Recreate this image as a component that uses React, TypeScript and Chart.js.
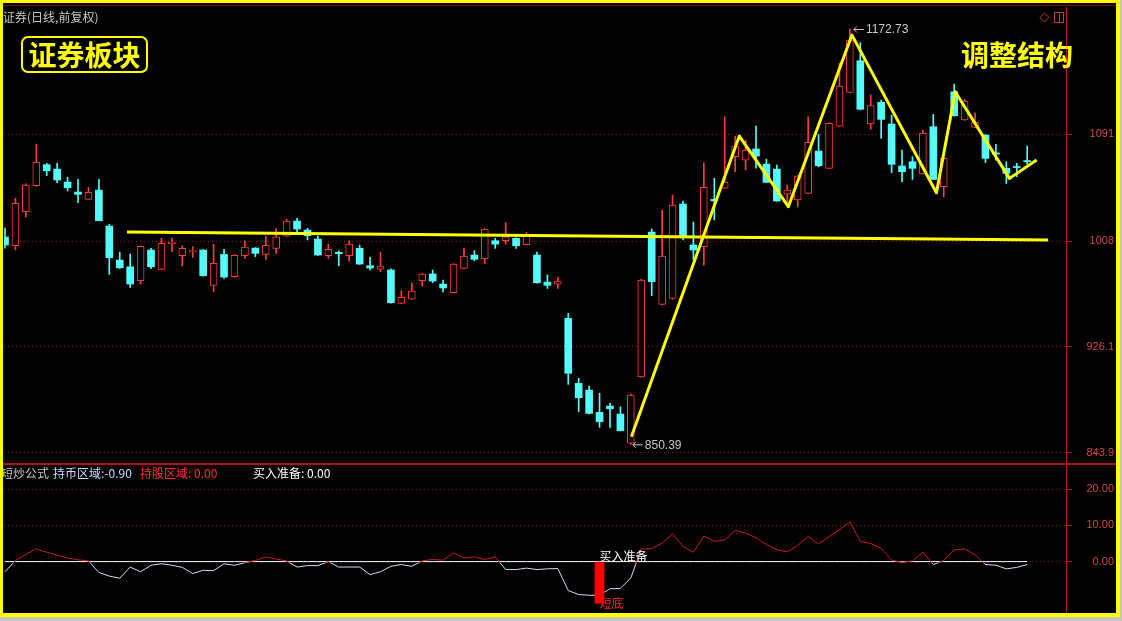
import React, { useEffect, useRef } from 'react';
import { Chart, registerables } from 'chart.js';

Chart.register(...registerables);

// ---------- text ----------
const chartTitle = '证券(日线,前复权)';
const sectorLabel = '证券板块';
const patternLabel = '调整结构';
const indicatorName = '短炒公式';
const headerHold = '持币区域:-0.90';
const headerStock = '持股区域: 0.00';
const headerBuy = '买入准备: 0.00';
const buySignalText = '买入准备';
const bottomSignalText = '短底';

// ---------- daily OHLC ----------
const opens = [
  1011.3, 1004.5, 1030.9, 1051.1, 1067.4, 1064.0, 1053.9, 1046.2, 1040.5, 1047.7,
  1019.8, 993.4, 988.2, 977.4, 1001.2, 986.2, 1006.0, 996.8, 999.8, 1001.2,
  973.8, 997.8, 980.5, 996.8, 1002.7, 997.8, 1002.5, 1012.0, 1023.7, 1016.7,
  1009.7, 996.8, 999.4, 996.8, 1002.5, 989.0, 986.4, 985.7, 959.8, 963.1,
  977.4, 982.6, 974.8, 968.0, 987.0, 997.3, 994.4, 1008.4, 1008.4, 1010.3,
  1005.3, 997.3, 976.3, 974.6, 948.2, 897.7, 892.5, 875.2, 880.1, 873.9,
  851.2, 902.8, 1015.1, 959.0, 963.7, 1036.9, 1005.1, 1003.7, 1040.5, 1049.1,
  1073.6, 1071.0, 1079.6, 1067.9, 1064.0, 1044.6, 1040.0, 1045.2, 1078.0, 1064.6,
  1097.4, 1123.6, 1148.1, 1099.0, 1115.8, 1099.0, 1066.4, 1069.7, 1060.2, 1096.9,
  1050.3, 1124.0, 1102.1, 1096.4, 1090.4, 1076.5, 1064.6, 1066.0, 1070.6,
];
const highs = [
  1018.2, 1041.5, 1052.5, 1083.4, 1068.5, 1068.5, 1057.6, 1056.0, 1049.8, 1056.0,
  1021.1, 999.4, 998.1, 1004.5, 1002.5, 1010.3, 1010.3, 1004.5, 1003.7, 1001.5,
  1005.6, 1001.7, 997.5, 1008.4, 1003.0, 1012.0, 1017.7, 1025.0, 1025.8, 1018.0,
  1012.0, 1005.8, 1000.6, 1008.4, 1005.0, 995.5, 999.4, 986.5, 969.6, 975.8,
  983.0, 985.7, 977.9, 990.6, 1002.5, 1000.6, 1017.6, 1010.3, 1022.4, 1010.6,
  1014.9, 999.6, 981.8, 980.0, 952.0, 901.6, 895.6, 890.0, 882.2, 879.5,
  889.4, 978.5, 1017.5, 1032.2, 1043.9, 1039.2, 1022.9, 1068.9, 1056.8, 1104.6,
  1089.6, 1086.5, 1097.4, 1071.6, 1067.1, 1051.6, 1059.0, 1104.6, 1091.0, 1100.0,
  1146.1, 1172.73, 1162.1, 1121.5, 1117.6, 1105.9, 1078.8, 1073.6, 1094.3, 1106.5,
  1072.6, 1130.0, 1118.1, 1107.7, 1090.8, 1083.2, 1069.7, 1068.5, 1081.9,
];
const lows = [
  1002.7, 1001.2, 1026.8, 1050.8, 1058.8, 1053.4, 1047.0, 1037.9, 1040.5, 1023.9,
  982.3, 986.9, 972.2, 974.8, 987.0, 986.0, 999.9, 988.8, 995.5, 981.0,
  968.8, 979.2, 980.0, 994.7, 996.0, 994.0, 998.6, 1011.8, 1015.4, 1009.0,
  997.0, 994.7, 989.0, 992.6, 990.0, 985.7, 984.3, 960.0, 959.5, 962.9,
  973.2, 975.8, 968.6, 967.8, 986.8, 992.9, 990.8, 1002.5, 1005.6, 1002.5,
  1005.0, 975.5, 971.4, 971.4, 896.9, 875.7, 873.9, 863.6, 863.6, 860.8,
  850.39, 902.5, 965.7, 958.5, 963.0, 1009.0, 993.4, 989.5, 1024.5, 1048.9,
  1062.0, 1063.3, 1064.8, 1053.5, 1039.0, 1036.1, 1034.6, 1045.0, 1065.8, 1064.3,
  1097.0, 1123.3, 1110.0, 1094.9, 1087.9, 1061.2, 1054.2, 1056.0, 1060.0, 1055.8,
  1042.5, 1105.0, 1101.8, 1096.2, 1069.0, 1071.0, 1052.9, 1058.1, 1067.9,
];
const closes = [
  1005.1, 1037.4, 1051.6, 1069.2, 1062.7, 1055.5, 1049.5, 1044.4, 1046.0, 1023.9,
  995.2, 987.4, 974.8, 1004.0, 988.2, 1006.4, 1007.4, 1002.5, 1000.8, 981.2,
  990.9, 980.2, 997.1, 1003.5, 998.6, 1004.8, 1011.5, 1023.7, 1017.5, 1012.3,
  997.3, 1001.7, 998.4, 1005.8, 990.3, 987.2, 988.8, 960.3, 964.5, 969.4,
  982.6, 977.1, 971.7, 990.3, 996.5, 994.0, 1017.2, 1005.8, 1011.5, 1004.5,
  1013.0, 975.8, 973.8, 977.1, 905.5, 886.5, 874.4, 867.9, 878.0, 860.9,
  888.6, 977.9, 976.6, 996.5, 1036.1, 1011.3, 1001.2, 1049.8, 1039.4, 1053.7,
  1081.9, 1078.8, 1074.1, 1053.7, 1039.2, 1047.7, 1058.6, 1084.8, 1066.6, 1099.5,
  1128.5, 1164.2, 1110.4, 1113.2, 1102.6, 1067.7, 1062.0, 1064.6, 1091.7, 1056.0,
  1072.3, 1105.4, 1116.8, 1100.3, 1072.3, 1075.6, 1060.7, 1065.2, 1069.8,
];

// ---------- price axis ----------
const priceTicks = [843.9, 926.1, 1008, 1091];
const priceTickLabels = ['843.9', '926.1', '1008', '1091'];

// ---------- hand-drawn yellow lines (bar index, price) ----------
const trendX = [11.7, 100.0];
const trendY = [1015.1, 1008.9];
const zigzagX = [60.05, 70.4, 75.1, 81.2, 89.3, 91.1, 96.3, 98.9];
const zigzagY = [856.3, 1089.6, 1034.8, 1168.0, 1045.6, 1124.0, 1056.8, 1071.0];

// ---------- indicator ----------
const signalValues = [
  -2.8, 0.3, 2.0, 3.5, 2.6, 1.8, 1.0, 0.5, 0.2, -3.0,
  -4.0, -4.6, -1.5, -2.8, -1.0, -0.6, -1.0, -1.6, -3.3, -2.4,
  -2.5, -0.6, -1.0, -0.3, 0.3, 1.3, 0.7, 0.2, -1.5, -1.1,
  -1.1, 0.0, -1.5, -1.5, -1.5, -3.6, -2.8, -1.3, -0.8, -1.3,
  0.2, 0.6, 0.4, 2.4, 1.0, 1.3, 0.6, 1.3, -2.2, -2.2,
  -1.8, -2.2, -2.0, -1.9, -8.0, -9.1, -9.3, -9.3, -7.5, -7.4,
  -4.5, 3.5, 3.6, 5.1, 7.7, 4.2, 2.6, 7.1, 5.6, 6.0,
  8.6, 7.9, 6.6, 4.7, 3.3, 2.7, 4.5, 6.9, 4.9, 6.9,
  8.8, 11.0, 5.6, 5.0, 3.7, 0.4, -0.2, 0.2, 2.6, -0.8,
  0.3, 3.2, 3.5, 1.9, -0.8, -1.0, -2.0, -1.6, -0.8,
];
const bottomBarIndex = 57;
const bottomBarValue = -11.5;
const indicatorTicks = [0, 10, 20];
const indicatorTickLabels = ['0.00', '10.00', '20.00'];

// ---------- styles ----------
const CYAN = '#54fcfc';
const RED = '#ff3c3c';
const YELLOW = '#ffff00';
const AXIS_RED = '#b41e1e';
const GRID_RED = '#9a1818';
const LABEL_RED = '#d04848';
const GREY_TEXT = '#c8c8c8';
const FONT_CJK = '"Noto Sans CJK SC"';
const FONT_NUM = '"Liberation Sans"';

const X_MIN = -0.096;
const X_MAX = 101.72;

Chart.defaults.font.family = FONT_NUM;

const idx = opens.map((_, i) => i);
const upFlags = idx.map((i) => closes[i] >= opens[i]);

function drawMark(ctx: CanvasRenderingContext2D, x: number, y: number, text: string) {
  ctx.strokeStyle = GREY_TEXT;
  ctx.lineWidth = 1;
  ctx.beginPath();
  ctx.moveTo(x + 2, y + 0.5);
  ctx.lineTo(x + 12, y + 0.5);
  ctx.moveTo(x + 2, y + 0.5);
  ctx.lineTo(x + 5, y - 2.5);
  ctx.moveTo(x + 2, y + 0.5);
  ctx.lineTo(x + 5, y + 3.5);
  ctx.stroke();
  ctx.font = `12px ${FONT_NUM}`;
  ctx.fillStyle = GREY_TEXT;
  ctx.textAlign = 'left';
  ctx.textBaseline = 'middle';
  ctx.fillText(text, x + 14, y + 1);
}

const priceDecor = {
  id: 'priceDecor',
  afterDraw(chart: any) {
    const { ctx } = chart;
    const xs = chart.scales.x;
    const ys = chart.scales.y;
    ctx.save();
    ctx.textBaseline = 'middle';
    ctx.textAlign = 'left';
    ctx.font = `12px ${FONT_CJK}`;
    ctx.fillStyle = GREY_TEXT;
    ctx.fillText(chartTitle, 3, 17);

    ctx.strokeStyle = YELLOW;
    ctx.lineWidth = 2;
    ctx.beginPath();
    ctx.roundRect(22, 37, 125, 35, 6);
    ctx.stroke();
    ctx.fillStyle = YELLOW;
    ctx.font = `bold 28px ${FONT_CJK}`;
    ctx.textAlign = 'center';
    ctx.fillText(sectorLabel, 84.5, 55);
    ctx.textAlign = 'left';
    ctx.fillText(patternLabel, 961, 55);

    // small icons top right
    ctx.strokeStyle = '#c83c3c';
    ctx.lineWidth = 1;
    ctx.beginPath();
    ctx.moveTo(1044.5, 13);
    ctx.lineTo(1049, 17.5);
    ctx.lineTo(1044.5, 22);
    ctx.lineTo(1040, 17.5);
    ctx.closePath();
    ctx.stroke();
    ctx.strokeRect(1054.5, 12.5, 9, 10);
    ctx.beginPath();
    ctx.moveTo(1059.5, 12.5);
    ctx.lineTo(1059.5, 22.5);
    ctx.stroke();

    const lowVal = Math.min(...lows);
    const lowIdx = lows.indexOf(lowVal);
    const highVal = Math.max(...highs);
    const highIdx = highs.indexOf(highVal);
    drawMark(ctx, xs.getPixelForValue(lowIdx), ys.getPixelForValue(lowVal), lowVal.toFixed(2));
    drawMark(ctx, xs.getPixelForValue(highIdx) + 2, ys.getPixelForValue(highVal), highVal.toFixed(2));
    ctx.restore();
  },
};

const signClip = {
  id: 'signClip',
  beforeDatasetDraw(chart: any, args: any) {
    const ds = chart.data.datasets[args.index];
    if (!ds.clipSign) return;
    const { ctx, chartArea } = chart;
    const zero = chart.scales.y.getPixelForValue(0);
    ctx.save();
    ctx.beginPath();
    if (ds.clipSign > 0) ctx.rect(chartArea.left, chartArea.top, chartArea.width, zero - chartArea.top + 1);
    else ctx.rect(chartArea.left, zero + 1, chartArea.width, chartArea.bottom - zero);
    ctx.clip();
  },
  afterDatasetDraw(chart: any, args: any) {
    const ds = chart.data.datasets[args.index];
    if (!ds.clipSign) return;
    chart.ctx.restore();
  },
};

const indicatorDecor = {
  id: 'indicatorDecor',
  beforeDatasetsDraw(chart: any) {
    const { ctx } = chart;
    const x = chart.scales.x.getPixelForValue(bottomBarIndex);
    const y = chart.scales.y.getPixelForValue(bottomBarValue);
    ctx.save();
    ctx.font = `12px ${FONT_CJK}`;
    ctx.fillStyle = '#ff2828';
    ctx.textAlign = 'left';
    ctx.textBaseline = 'middle';
    ctx.fillText(bottomSignalText, x, y);
    ctx.restore();
  },
  afterDatasetsDraw(chart: any) {
    const { ctx } = chart;
    const x = chart.scales.x.getPixelForValue(bottomBarIndex);
    const y0 = chart.scales.y.getPixelForValue(0);
    ctx.save();
    ctx.font = `12px ${FONT_CJK}`;
    ctx.fillStyle = '#ffffff';
    ctx.textAlign = 'left';
    ctx.textBaseline = 'middle';
    ctx.fillText(buySignalText, x, y0 - 5);
    ctx.restore();
  },
  afterDraw(chart: any) {
    const { ctx } = chart;
    ctx.save();
    ctx.textBaseline = 'middle';
    ctx.textAlign = 'left';
    ctx.font = `12px ${FONT_CJK}`;
    ctx.fillStyle = GREY_TEXT;
    ctx.fillText(indicatorName, 1, 473);
    ctx.fillStyle = '#c8dcff';
    ctx.fillText(headerHold, 53, 473);
    ctx.fillStyle = '#ff3030';
    ctx.fillText(headerStock, 140, 473);
    ctx.fillStyle = '#ffffff';
    ctx.fillText(headerBuy, 253, 473);

    // panel separators
    ctx.fillStyle = '#800000';
    ctx.fillRect(0, 5, 1122, 1);
    ctx.fillStyle = '#aa1414';
    ctx.fillRect(3, 463, 1114, 2);

    // outer frame
    ctx.fillStyle = '#c8c8b4';
    ctx.fillRect(1120, 0, 2, 621);
    ctx.fillRect(0, 617, 1122, 4);
    ctx.fillStyle = YELLOW;
    ctx.fillRect(0, 0, 1120, 3);
    ctx.fillRect(0, 0, 3, 617);
    ctx.fillRect(1116, 0, 4, 617);
    ctx.fillRect(0, 613, 1120, 4);
    ctx.restore();
  },
};

function yAxis(min: number, max: number, ticks: number[], labels: string[]) {
  return {
    position: 'right' as const,
    min,
    max,
    afterBuildTicks: (s: any) => {
      s.ticks = ticks.map((v) => ({ value: v }));
    },
    afterFit: (s: any) => {
      s.width = 48;
      s.paddingTop = 0;
      s.paddingBottom = 0;
    },
    ticks: {
      color: LABEL_RED,
      font: { size: 11, family: FONT_NUM },
      padding: 9.5,
      crossAlign: 'far' as const,
      autoSkip: false,
      callback: (v: any) => {
        const k = ticks.indexOf(v);
        return k >= 0 ? labels[k] : '';
      },
    },
    grid: {
      color: GRID_RED,
      lineWidth: 1,
      drawOnChartArea: true,
      drawTicks: true,
      tickLength: 6,
      tickColor: AXIS_RED,
      tickBorderDash: [],
    },
    border: { display: true, color: AXIS_RED, width: 1, dash: [1, 3] },
  };
}

const xAxis = {
  type: 'linear' as const,
  min: X_MIN,
  max: X_MAX,
  offset: false,
  display: false,
  grid: { display: false },
};

export default function App() {
  const priceRef = useRef<HTMLCanvasElement>(null);
  const indRef = useRef<HTMLCanvasElement>(null);

  useEffect(() => {
    const priceChart = new Chart(priceRef.current as HTMLCanvasElement, {
      type: 'bar',
      data: {
        datasets: [
          {
            type: 'line',
            label: 'zigzag',
            data: zigzagX.map((x, k) => ({ x, y: zigzagY[k] })),
            borderColor: YELLOW,
            borderWidth: 3,
            pointRadius: 0,
            borderJoinStyle: 'round',
            tension: 0,
            order: 0,
          } as any,
          {
            type: 'line',
            label: 'trend',
            data: trendX.map((x, k) => ({ x, y: trendY[k] })),
            borderColor: YELLOW,
            borderWidth: 3,
            pointRadius: 0,
            tension: 0,
            order: 0,
          } as any,
          {
            type: 'bar',
            label: 'body',
            data: idx.map((i) => ({ x: i, y: [opens[i], closes[i]] })),
            backgroundColor: idx.map((i) => (upFlags[i] ? '#000000' : CYAN)),
            borderColor: idx.map((i) => (upFlags[i] ? RED : CYAN)),
            borderWidth: idx.map((i) => (upFlags[i] ? 1 : 0)),
            borderSkipped: false,
            barThickness: 7,
            minBarLength: 1,
            grouped: false,
            order: 1,
          } as any,
          {
            type: 'bar',
            label: 'wick',
            data: idx.map((i) => ({ x: i, y: [lows[i], highs[i]] })),
            backgroundColor: idx.map((i) => (upFlags[i] ? RED : CYAN)),
            borderWidth: 0,
            barThickness: 1,
            grouped: false,
            order: 2,
          } as any,
        ],
      },
      options: {
        responsive: false,
        animation: false,
        events: [],
        layout: { padding: { left: 4, right: 8, top: 7, bottom: 158 } },
        plugins: { legend: { display: false }, tooltip: { enabled: false } },
        scales: {
          x: xAxis as any,
          y: yAxis(835.9, 1189.8, priceTicks, priceTickLabels) as any,
        },
      },
      plugins: [priceDecor],
    });

    const indChart = new Chart(indRef.current as HTMLCanvasElement, {
      type: 'bar',
      data: {
        datasets: [
          {
            type: 'bar',
            label: 'bottom',
            data: [{ x: bottomBarIndex, y: [0, bottomBarValue] }],
            backgroundColor: '#ff0000',
            borderWidth: 0,
            barThickness: 9,
            grouped: false,
            order: 0,
          } as any,
          {
            type: 'line',
            label: 'pos',
            clipSign: 1,
            data: signalValues.map((v, i) => ({ x: i, y: v })),
            borderColor: '#c81e1e',
            borderWidth: 1,
            pointRadius: 0,
            tension: 0,
            order: 1,
          } as any,
          {
            type: 'line',
            label: 'neg',
            clipSign: -1,
            data: signalValues.map((v, i) => ({ x: i, y: v })),
            borderColor: '#d0dcf0',
            borderWidth: 1,
            pointRadius: 0,
            tension: 0,
            order: 2,
          } as any,
          {
            type: 'line',
            label: 'zero',
            data: signalValues.map((_, i) => ({ x: i, y: 0 })),
            borderColor: '#ffffff',
            borderWidth: 1,
            pointRadius: 0,
            tension: 0,
            order: 3,
          } as any,
        ],
      },
      options: {
        responsive: false,
        animation: false,
        events: [],
        layout: { padding: { left: 4, right: 8, top: 465, bottom: 8 } },
        plugins: { legend: { display: false }, tooltip: { enabled: false } },
        scales: {
          x: xAxis as any,
          y: yAxis(-14.2, 26.7, indicatorTicks, indicatorTickLabels) as any,
        },
      },
      plugins: [signClip, indicatorDecor],
    });

    return () => {
      priceChart.destroy();
      indChart.destroy();
    };
  }, []);

  return (
    <div
      style={{
        position: 'absolute',
        left: 0,
        top: 0,
        width: 1122,
        height: 621,
        background: '#000',
        overflow: 'hidden',
      }}
    >
      <canvas ref={priceRef} width={1122} height={621} style={{ position: 'absolute', left: 0, top: 0 }} />
      <canvas ref={indRef} width={1122} height={621} style={{ position: 'absolute', left: 0, top: 0 }} />
    </div>
  );
}
